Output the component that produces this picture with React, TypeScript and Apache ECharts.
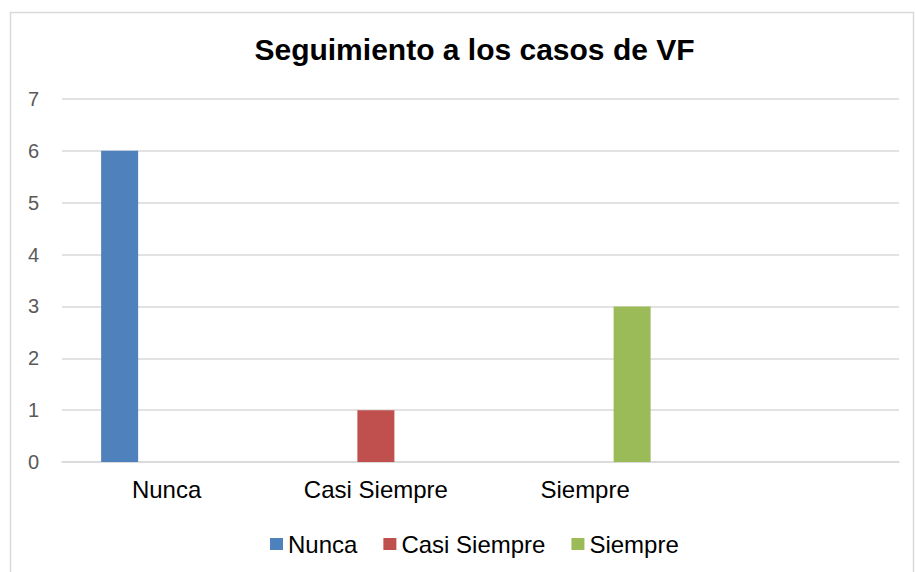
import React, { useEffect, useRef } from "react";
import * as echarts from "echarts";

const categories = ["Nunca", "Casi Siempre", "Siempre", ""];
const seriesNames = ["Nunca", "Casi Siempre", "Siempre"];
const nuncaValues = [6, "-", "-", "-"];
const casiSiempreValues = ["-", 1, "-", "-"];
const siempreValues = ["-", "-", 3, "-"];
const colors = ["#4f81bd", "#c0504d", "#9bbb59"];
const titleText = "Seguimiento a los casos de VF";

export default function App() {
  const ref = useRef<HTMLDivElement>(null);
  useEffect(() => {
    document.body.style.margin = "0";
    const chart = echarts.init(ref.current!, null, { renderer: "svg" });
    const font = "Liberation Sans, Arial, sans-serif";
    const data = [nuncaValues, casiSiempreValues, siempreValues];
    chart.setOption({
      animation: false,
      backgroundColor: "#ffffff",
      title: {
        text: titleText,
        left: 469.5,
        textAlign: "center",
        top: 29,
        textStyle: { fontFamily: font, fontSize: 30, fontWeight: "bold", color: "#000000" },
      },
      graphic: [
        {
          type: "rect",
          shape: { x: 10.5, y: 12.5, width: 903, height: 580 },
          style: { fill: "none", stroke: "#d9d9d9", lineWidth: 1.5 },
          silent: true,
        },
      ],
      legend: {
        data: seriesNames,
        left: 265,
        top: 527,
        itemWidth: 13,
        itemHeight: 12,
        itemGap: 26,
        icon: "rect",
        textStyle: { fontFamily: font, fontSize: 24, color: "#000000", padding: [0, 0, 0, 0] },
      },
      grid: { left: 62, right: 16, top: 99, bottom: 110 },
      xAxis: {
        type: "category",
        data: categories,
        axisLine: { show: true, lineStyle: { color: "#d9d9d9", width: 1.5 } },
        axisTick: { show: false },
        axisLabel: { fontFamily: font, fontSize: 24, color: "#000000", margin: 15 },
      },
      yAxis: {
        type: "value",
        min: 0,
        max: 7,
        interval: 1,
        axisLine: { show: false },
        axisTick: { show: false },
        splitLine: { lineStyle: { color: "#d9d9d9", width: 1.5 } },
        axisLabel: { fontFamily: font, fontSize: 20, color: "#595959", margin: 23 },
      },
      series: seriesNames.map((name, i) => ({
        name,
        type: "bar",
        data: data[i],
        barWidth: 37,
        barGap: "27%",
        itemStyle: { color: colors[i] },
      })),
    });
    return () => chart.dispose();
  }, []);
  return <div ref={ref} style={{ width: 915, height: 572 }} />;
}
